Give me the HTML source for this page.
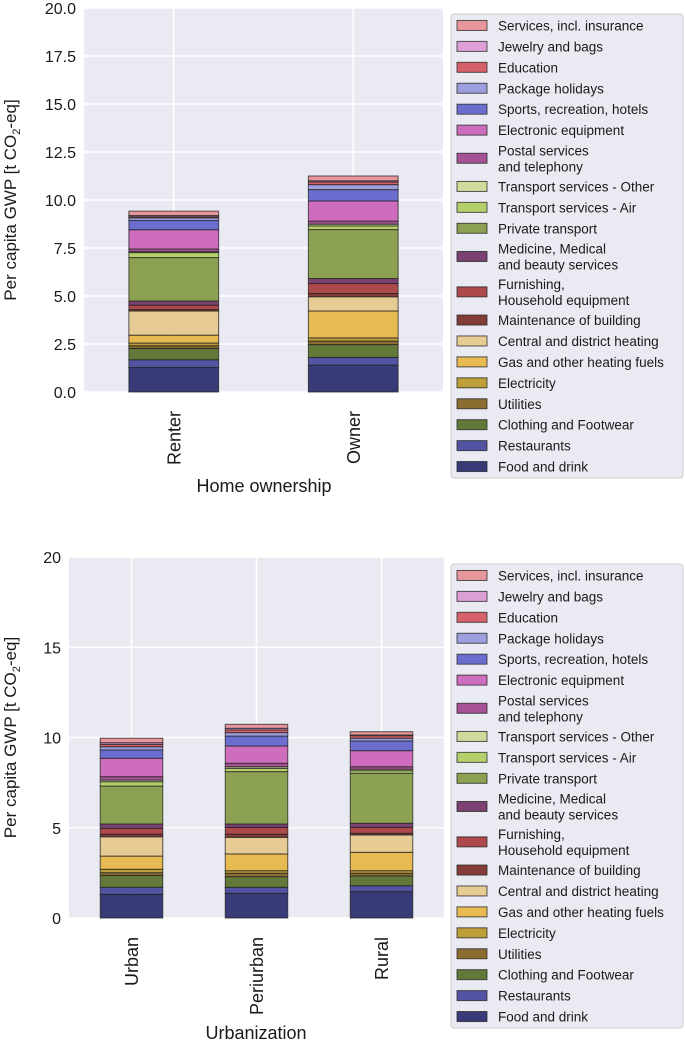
<!DOCTYPE html>
<html><head><meta charset="utf-8"><style>
body{margin:0;background:#fff;}
svg text{font-family:"Liberation Sans",Arial,sans-serif;fill:#1a1a1a;}
</style></head><body>
<svg id="fig" width="685" height="1041" xmlns="http://www.w3.org/2000/svg"></svg>
<script>
const categoryNames = ["Food and drink","Restaurants","Clothing and Footwear","Utilities","Electricity","Gas and other heating fuels","Central and district heating","Maintenance of building","Furnishing,|Household equipment","Medicine, Medical|and beauty services","Private transport","Transport services - Air","Transport services - Other","Postal services|and telephony","Electronic equipment","Sports, recreation, hotels","Package holidays","Education","Jewelry and bags","Services, incl. insurance"];
const colors = ["#393b79","#5254a3","#637939","#8c6d31","#bd9e39","#e7ba52","#e7cb94","#843c39","#ad494a","#7b4173","#8ca252","#b5cf6b","#cedb9c","#a55194","#ce6dbd","#6b6ecf","#9c9ede","#d6616b","#de9ed6","#e7969c"];
const topGroups = ["Renter","Owner"];
const renterValues = [1.28,0.40,0.59,0.14,0.14,0.41,1.26,0.07,0.23,0.22,2.26,0.26,0.05,0.14,1.00,0.48,0.14,0.06,0.06,0.23];
const ownerValues = [1.40,0.40,0.67,0.18,0.17,1.40,0.74,0.17,0.52,0.26,2.55,0.19,0.09,0.16,1.05,0.59,0.26,0.14,0.06,0.25];
const topTicks = ["0.0","2.5","5.0","7.5","10.0","12.5","15.0","17.5","20.0"];
const bottomGroups = ["Urban","Periurban","Rural"];
const urbanValues = [1.31,0.39,0.66,0.15,0.19,0.73,1.07,0.14,0.33,0.24,2.10,0.24,0.09,0.19,1.02,0.46,0.18,0.13,0.09,0.25];
const periurbanValues = [1.37,0.33,0.59,0.19,0.14,0.93,0.92,0.17,0.38,0.19,2.90,0.18,0.09,0.19,0.96,0.55,0.19,0.15,0.09,0.22];
const ruralValues = [1.46,0.33,0.54,0.15,0.14,1.02,0.96,0.09,0.33,0.23,2.77,0.14,0.08,0.14,0.89,0.54,0.15,0.14,0.04,0.18];
const bottomTicks = ["0","5","10","15","20"];

const NS="http://www.w3.org/2000/svg";
const svg=document.getElementById('fig');
function mk(tag,attrs,parent){const e=document.createElementNS(NS,tag);for(const k in attrs)e.setAttribute(k,attrs[k]);(parent||svg).appendChild(e);return e;}

function drawChart(cfg){
  const g=mk('g',{});
  
  
  const L=cfg.left,R=cfg.right,T=cfg.top,B=cfg.bottom;
  const n=cfg.groups.length;
  const xs=i=>L+(i+0.5)/n*(R-L);
  const ys=v=>B-(v/cfg.ymax)*(B-T);
  const bg=mk('rect',{x:L,y:T,width:R-L,height:B-T,fill:'#eaeaf2'},g);
  
  
  cfg.ticks.forEach(t=>{
    const v=parseFloat(t),y=ys(v);
    const gl=mk('line',{x1:L,x2:R,y1:y,y2:y,stroke:'#fff','stroke-width':1.6},g);
    
    
    const tx=mk('text',{x:L-8,y:y+6,'text-anchor':'end','font-size':16},g);
    tx.textContent=t;
    
    
  });
  cfg.groups.forEach((grp,i)=>{
    const x=xs(i);
    const gl=mk('line',{x1:x,x2:x,y1:T,y2:B,stroke:'#fff','stroke-width':1.6},g);
    
    
  });
  const bw=0.5*(R-L)/n;
  cfg.series.forEach((vals,i)=>{
    const x=xs(i);let acc=0;
    vals.forEach((v,k)=>{
      const y0=ys(acc),y1=ys(acc+v);
      const r=mk('rect',{x:x-bw/2,y:y1,width:bw,height:Math.max(0,y0-y1),fill:colors[k],stroke:'#222','stroke-opacity':0.75,'stroke-width':1},g);
      
      
      acc+=v;
    });
    const tx=mk('text',{x:0,y:0,'text-anchor':'end','font-size':18,transform:`translate(${x+6.5},${B+19}) rotate(-90)`},g);
    tx.textContent=cfg.groups[i];
    
    
  });
  const xt=mk('text',{x:cfg.xTitleX,y:cfg.xTitleY,'text-anchor':'middle','font-size':18},g);
  xt.textContent=cfg.xTitle;
  
  
  const yt=mk('text',{x:0,y:0,'text-anchor':'middle','font-size':17,transform:`translate(${cfg.yTitleX},${(T+B)/2}) rotate(-90)`},g);
  yt.innerHTML='Per capita GWP [t CO<tspan font-size="11" dy="4">2</tspan><tspan dy="-4">-eq]</tspan>';
  
  
  const lg=mk('g',{},g);
  
  
  mk('rect',{x:451,y:cfg.legTop,width:232,height:cfg.legH,rx:3,fill:'#eaeaf2',stroke:'#cccccc','stroke-width':1},lg);
  let y=cfg.legTop+1;
  for(let k=colors.length-1;k>=0;k--){
    const lines=categoryNames[k].split('|');
    const h=lines.length===2?35.4:20.93;
    const cy=y+h/2;
    const e=mk('g',{},lg);
    
    
    mk('rect',{x:457,y:cy-5,width:30,height:10,fill:colors[k],stroke:'#222','stroke-opacity':0.75,'stroke-width':1},e);
    lines.forEach((ln,j)=>{
      const t=mk('text',{x:498,y:cy+5+(lines.length===2?(j===0?-8:8):0),'font-size':13.5},e);
      t.textContent=ln;
    });
    y+=h;
  }
}
drawChart({name:'home-ownership-chart',left:84,right:443,top:8,bottom:392,ymax:20,groups:topGroups,series:[renterValues,ownerValues],ticks:topTicks,xTitle:'Home ownership',xTitleX:264,xTitleY:492,yTitleX:16,legTop:14,legH:464});
drawChart({name:'urbanization-chart',left:69,right:444,top:557,bottom:918,ymax:20,groups:bottomGroups,series:[urbanValues,periurbanValues,ruralValues],ticks:bottomTicks,xTitle:'Urbanization',xTitleX:256,xTitleY:1039,yTitleX:16,legTop:564,legH:464});
</script>
</body></html>
